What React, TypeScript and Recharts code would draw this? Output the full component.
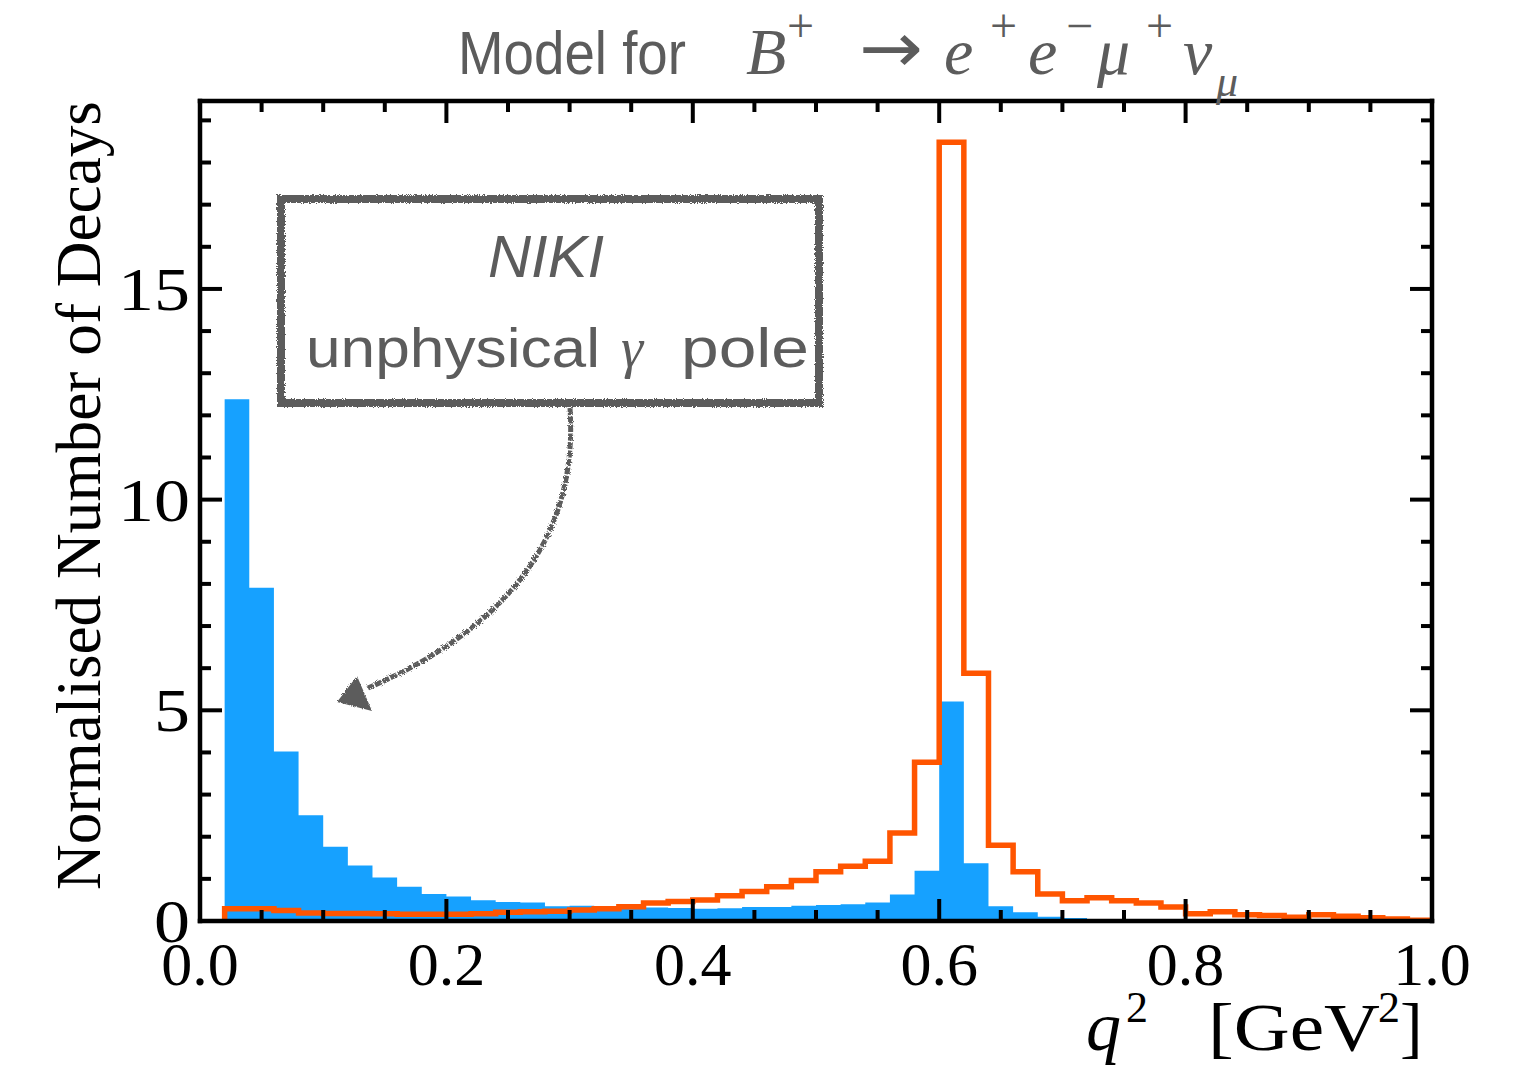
import React from 'react';
import { ComposedChart, Area, Line, XAxis, YAxis } from 'recharts';

// left edges of the q^2 bins (GeV^2), width 0.02
const binLeft = [
  0.02, 0.04, 0.06, 0.08, 0.1, 0.12, 0.14, 0.16, 0.18, 0.2,
  0.22, 0.24, 0.26, 0.28, 0.3, 0.32, 0.34, 0.36, 0.38, 0.4,
  0.42, 0.44, 0.46, 0.48, 0.5, 0.52, 0.54, 0.56, 0.58, 0.6,
  0.62, 0.64, 0.66, 0.68, 0.7, 0.72, 0.74, 0.76, 0.78, 0.8,
  0.82, 0.84, 0.86, 0.88, 0.9, 0.92, 0.94, 0.96, 0.98,
];
const binEnd = 1.0;

// filled blue histogram (NIKI, with the photon pole)
const blueCounts = [
  12.38, 7.91, 4.02, 2.51, 1.76, 1.32, 1.03, 0.81, 0.64, 0.58,
  0.49, 0.45, 0.44, 0.35, 0.36, 0.33, 0.32, 0.32, 0.31, 0.29,
  0.3, 0.33, 0.33, 0.36, 0.38, 0.4, 0.44, 0.63, 1.19, 5.21,
  1.37, 0.35, 0.21, 0.1, 0.07, 0.05, 0.05, 0.03, 0.02, 0.01,
  0.01, 0.01, 0, 0, 0, 0, 0, 0, 0,
];

// orange step histogram
const orangeCounts = [
  0.29, 0.29, 0.25, 0.19, 0.18, 0.18, 0.17, 0.16, 0.16, 0.16,
  0.17, 0.21, 0.22, 0.23, 0.26, 0.29, 0.34, 0.43, 0.46, 0.5,
  0.6, 0.7, 0.81, 0.96, 1.17, 1.3, 1.42, 2.09, 3.77, 18.48,
  5.88, 1.8, 1.17, 0.64, 0.48, 0.55, 0.48, 0.43, 0.33, 0.17,
  0.22, 0.15, 0.13, 0.09, 0.15, 0.11, 0.08, 0.05, 0.02,
];

const xMajorTicks = [0, 0.2, 0.4, 0.6, 0.8, 1.0];
const xMinorTicks = [0.05, 0.1, 0.15, 0.25, 0.3, 0.35, 0.45, 0.5, 0.55, 0.65, 0.7, 0.75, 0.85, 0.9, 0.95];
const yMajorTicks = [0, 5, 10, 15];
const yMinorTicks = [1, 2, 3, 4, 6, 7, 8, 9, 11, 12, 13, 14, 16, 17, 18, 19];
const yMax = 19.46;

const xAllTicks = [...xMajorTicks, ...xMinorTicks].sort((a, b) => a - b);
const yAllTicks = [...yMajorTicks, ...yMinorTicks].sort((a, b) => a - b);

const BLUE = '#16A1FF';
const ORANGE = '#FF5500';
const GREY = '#5c5c5c';
const SERIF = '"Liberation Serif", "Times New Roman", serif';
const SANS = '"Liberation Sans", Arial, sans-serif';
const MAJOR = 22;
const MINOR = 11;

// step data: start at zero, one point per left edge, close at the last edge
const last = binLeft.length - 1;
const histData = [
  { q: binLeft[0], blue: 0, orange: 0 },
  ...binLeft.map((q, i) => ({ q, blue: blueCounts[i], orange: orangeCounts[i] })),
  { q: binEnd, blue: blueCounts[last], orange: orangeCounts[last] },
  { q: binEnd, blue: 0, orange: 0 },
];

const frame = { stroke: '#000', strokeWidth: 4.5, strokeLinecap: 'square' as const };

// ticks point into the plot on every side
function BottomTick({ x, y, payload }: any) {
  const major = xMajorTicks.includes(payload.value);
  return (
    <g>
      <line x1={x} x2={x} y1={y} y2={y - (major ? MAJOR : MINOR)} stroke="#000" strokeWidth={4} />
      {major && (
        <text x={x} y={y + 64} textAnchor="middle" fill="#000" fontFamily={SERIF} fontSize={62}>
          {payload.value.toFixed(1)}
        </text>
      )}
    </g>
  );
}

function TopTick({ x, y, payload }: any) {
  const major = xMajorTicks.includes(payload.value);
  return <line x1={x} x2={x} y1={y} y2={y + (major ? MAJOR : MINOR)} stroke="#000" strokeWidth={4} />;
}

function LeftTick({ x, y, payload }: any) {
  const major = yMajorTicks.includes(payload.value);
  const label = String(payload.value);
  return (
    <g>
      <line x1={x} x2={x + (major ? MAJOR : MINOR)} y1={y} y2={y} stroke="#000" strokeWidth={4} />
      {major && (
        <text x={x - 10} y={y + 21} textAnchor="end" fill="#000" fontFamily={SERIF} fontSize={62}
          textLength={36 * label.length} lengthAdjust="spacingAndGlyphs">
          {label}
        </text>
      )}
    </g>
  );
}

function RightTick({ x, y, payload }: any) {
  const major = yMajorTicks.includes(payload.value);
  return <line x1={x} x2={x - (major ? MAJOR : MINOR)} y1={y} y2={y} stroke="#000" strokeWidth={4} />;
}

export default function App() {
  return (
    <div style={{ position: 'relative', width: 1517, height: 1077, background: '#fff' }}>
      <style>{'body{margin:0;background:#fff}'}</style>
      <ComposedChart
        width={1517}
        height={1077}
        data={histData}
        margin={{ top: 100, right: 84, bottom: 96, left: 100 }}
      >
        <XAxis xAxisId="x" type="number" dataKey="q" domain={[0, 1]} allowDataOverflow
          ticks={xAllTicks} interval={0} height={60} tickSize={0} tickMargin={0}
          tickLine={false} axisLine={frame} tick={BottomTick} />
        <XAxis xAxisId="top" orientation="top" type="number" dataKey="q" domain={[0, 1]} allowDataOverflow
          ticks={xAllTicks} interval={0} height={1} tickSize={0} tickMargin={0}
          tickLine={false} axisLine={frame} tick={TopTick} />
        <YAxis yAxisId="y" type="number" domain={[0, yMax]} allowDataOverflow
          ticks={yAllTicks} interval={0} width={100} tickSize={0} tickMargin={0}
          tickLine={false} axisLine={frame} tick={LeftTick} />
        <YAxis yAxisId="right" orientation="right" type="number" domain={[0, yMax]} allowDataOverflow
          ticks={yAllTicks} interval={0} width={1} tickSize={0} tickMargin={0}
          tickLine={false} axisLine={frame} tick={RightTick} />

        <Area
          xAxisId="x"
          yAxisId="y"
          type="stepAfter"
          dataKey="blue"
          fill={BLUE}
          fillOpacity={1}
          stroke="none"
          dot={false}
          activeDot={false}
          isAnimationActive={false}
        />
        <Line
          xAxisId="x"
          yAxisId="y"
          type="stepAfter"
          dataKey="orange"
          stroke={ORANGE}
          strokeWidth={5.5}
          strokeLinejoin="miter"
          dot={false}
          activeDot={false}
          isAnimationActive={false}
        />
      </ComposedChart>

      {/* title, axis titles and the hand-drawn note */}
      <svg
        width={1517}
        height={1077}
        style={{ position: 'absolute', left: 0, top: 0, pointerEvents: 'none' }}
      >
        <defs>
          <filter id="rough" x="-5%" y="-5%" width="110%" height="110%">
            <feTurbulence type="fractalNoise" baseFrequency="0.9" numOctaves={2} result="noise" />
            <feDisplacementMap in="SourceGraphic" in2="noise" scale={4} />
          </filter>
        </defs>

        <text x={458} y={74} fill={GREY} fontFamily={SANS} fontSize={62}
          textLength={228} lengthAdjust="spacingAndGlyphs">Model for</text>
        <g fill={GREY} fontFamily={SERIF}>
          <text x={746} y={74} fontSize={66} fontStyle="italic">B</text>
          <text x={787} y={42} fontSize={48}>+</text>
          <text x={859} y={72} fontSize={70} fontFamily="DejaVu Sans"
            textLength={64} lengthAdjust="spacingAndGlyphs">→</text>
          <text x={944} y={74} fontSize={66} fontStyle="italic">e</text>
          <text x={990} y={42} fontSize={48}>+</text>
          <text x={1028} y={74} fontSize={66} fontStyle="italic">e</text>
          <text x={1066} y={42} fontSize={48}>−</text>
          <text x={1097} y={74} fontSize={66} fontStyle="italic">μ</text>
          <text x={1146} y={42} fontSize={48}>+</text>
          <text x={1183} y={74} fontSize={66} fontStyle="italic">ν</text>
          <text x={1216} y={96} fontSize={44} fontStyle="italic">μ</text>
        </g>

        <text
          transform="translate(100, 890) rotate(-90)"
          x={0}
          y={0}
          fill="#000"
          fontFamily={SERIF}
          fontSize={64}
          textLength={789}
          lengthAdjust="spacingAndGlyphs"
        >
          Normalised Number of Decays
        </text>

        <g fill="#000" fontFamily={SERIF}>
          <text x={1086} y={1050} fontSize={70} fontStyle="italic">q</text>
          <text x={1126} y={1022} fontSize={44}>2</text>
          <text x={1208} y={1050} fontSize={68} textLength={172} lengthAdjust="spacingAndGlyphs">[GeV</text>
          <text x={1378} y={1022} fontSize={44}>2</text>
          <text x={1400} y={1050} fontSize={68}>]</text>
        </g>

        <g filter="url(#rough)">
          <rect x={281} y={199} width={538} height={204} fill="none" stroke={GREY} strokeWidth={8} />
          <path d="M570 408 C 578 530, 515 625, 368 688" fill="none" stroke={GREY}
            strokeWidth={5} strokeDasharray="7 1.5" />
          <polygon points="337,702 357,676 372,711" fill={GREY} />
        </g>

        <text x={488} y={277} fill={GREY} fontFamily={SANS} fontSize={60} fontStyle="italic"
          textLength={116} lengthAdjust="spacingAndGlyphs">NIKI</text>
        <g fill={GREY} fontSize={56}>
          <text x={306} y={367} fontFamily={SANS} textLength={294} lengthAdjust="spacingAndGlyphs">unphysical</text>
          <text x={621} y={367} fontFamily={SERIF} fontStyle="italic">γ</text>
          <text x={681} y={367} fontFamily={SANS} textLength={128} lengthAdjust="spacingAndGlyphs">pole</text>
        </g>
      </svg>
    </div>
  );
}
